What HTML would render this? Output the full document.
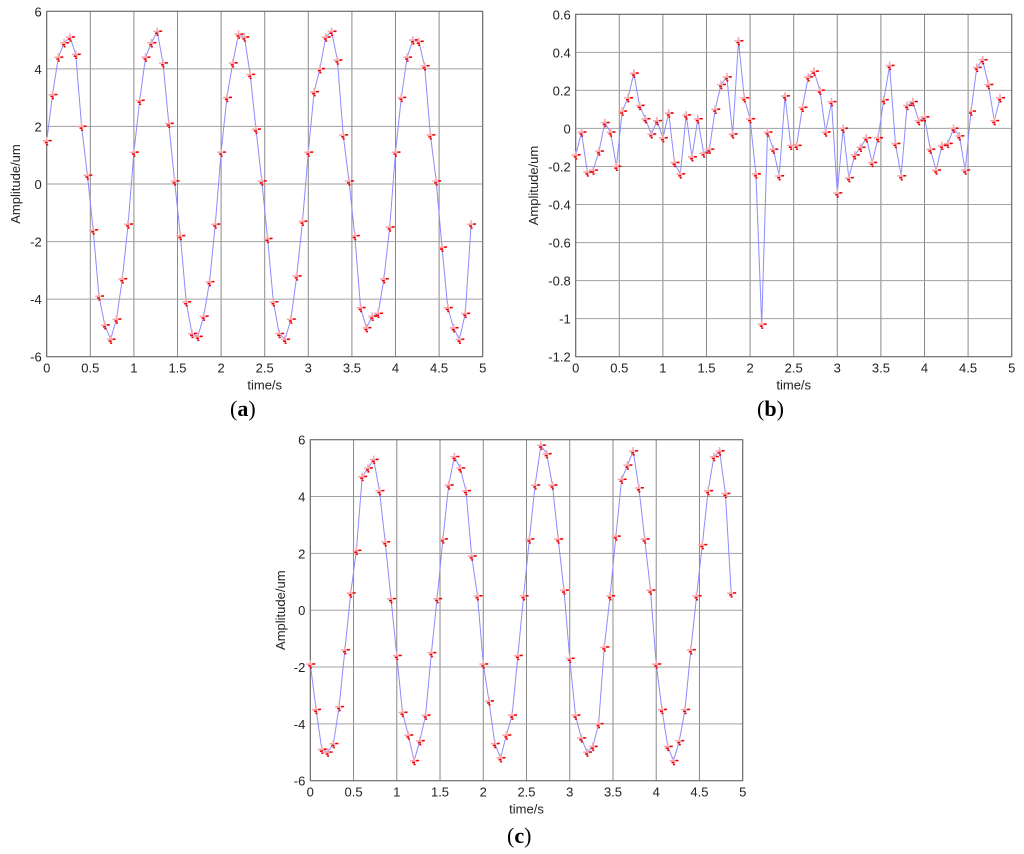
<!DOCTYPE html>
<html><head><meta charset="utf-8"><style>
html,body{margin:0;padding:0;background:#fff;}
body{width:1024px;height:854px;overflow:hidden;position:relative;font-family:"Liberation Sans",sans-serif;}
svg{position:absolute;left:0;top:0;}
.cap{position:absolute;font-family:"Liberation Serif",serif;font-size:22px;color:#000;}
.cap b{font-weight:bold;}
</style></head><body>
<svg id="fig" width="1024" height="854"></svg>
<div class="cap" style="left:230px;top:396px">(<b>a</b>)</div>
<div class="cap" style="left:757px;top:396px">(<b>b</b>)</div>
<div class="cap" style="left:507px;top:823px">(<b>c</b>)</div>
<script>
const sampleStep = 1/15;
const xTicks = [0,0.5,1,1.5,2,2.5,3,3.5,4,4.5,5];
const xTickLabels = ["0","0.5","1","1.5","2","2.5","3","3.5","4","4.5","5"];
const yTicksAC = [-6,-4,-2,0,2,4,6];
const yTickLabelsAC = ["-6","-4","-2","0","2","4","6"];
const yTicksB = [-1.2,-1,-0.8,-0.6,-0.4,-0.2,0,0.2,0.4,0.6];
const yTickLabelsB = ["-1.2","-1","-0.8","-0.6","-0.4","-0.2","0","0.2","0.4","0.6"];
const aValues = [1.5,3.1,4.4,4.9,5.1,4.5,2.0,0.3,-1.6,-3.9,-4.9,-5.4,-4.7,-3.3,-1.4,
 1.1,2.9,4.4,4.9,5.3,4.2,2.1,0.1,-1.8,-4.1,-5.2,-5.3,-4.6,-3.4,-1.4,
 1.1,3.0,4.2,5.2,5.1,3.8,1.9,0.1,-1.9,-4.1,-5.2,-5.4,-4.7,-3.2,-1.3,
 1.1,3.2,4.0,5.1,5.3,4.3,1.7,0.1,-1.8,-4.3,-5.0,-4.6,-4.5,-3.3,-1.5,
 1.1,3.0,4.4,5.0,4.95,4.1,1.7,0.1,-2.2,-4.3,-5.0,-5.4,-4.5,-1.4];
const bValues = [-0.14,-0.02,-0.23,-0.22,-0.12,0.03,-0.02,-0.2,0.09,0.16,0.29,0.12,0.05,-0.03,0.04,
 -0.05,0.08,-0.18,-0.24,0.07,-0.15,0.05,-0.13,-0.11,0.1,0.23,0.27,-0.03,0.46,0.16,
 0.05,-0.24,-1.03,-0.02,-0.11,-0.25,0.17,-0.09,-0.09,0.11,0.27,0.3,0.2,-0.02,0.14,
 -0.34,0.0,-0.26,-0.14,-0.1,-0.05,-0.18,-0.05,0.15,0.33,-0.08,-0.25,0.12,0.14,0.04,
 0.06,-0.11,-0.22,-0.09,-0.08,0.0,-0.04,-0.22,0.09,0.32,0.36,0.23,0.04,0.16];
const cValues = [-1.9,-3.5,-4.9,-5.0,-4.7,-3.4,-1.4,0.6,2.1,4.7,5.0,5.3,4.2,2.4,0.4,
 -1.6,-3.6,-4.4,-5.3,-4.6,-3.7,-1.5,0.4,2.5,4.4,5.4,5.0,4.2,1.9,0.5,
 -1.9,-3.2,-4.7,-5.2,-4.4,-3.7,-1.6,0.5,2.5,4.4,5.8,5.5,4.4,2.5,0.7,
 -1.7,-3.7,-4.5,-5.0,-4.8,-4.0,-1.3,0.5,2.6,4.6,5.1,5.6,4.3,2.5,0.7,
 -1.9,-3.5,-4.8,-5.3,-4.6,-3.5,-1.4,0.5,2.3,4.2,5.4,5.6,4.1,0.6];

const NS = "http://www.w3.org/2000/svg";
const svg = document.getElementById('fig');
function mk(tag, attrs, parent){
  const e = document.createElementNS(NS, tag);
  for (const k in attrs) e.setAttribute(k, attrs[k]);
  (parent||svg).appendChild(e);
  return e;
}
function drawChart(id, box, ymin, ymax, yTicks, yLabels, values){
  const g = mk('g', {});
  
  
  const xs = v => box.x0 + (v - 0) / 5 * (box.x1 - box.x0);
  const ys = v => box.y1 - (v - ymin) / (ymax - ymin) * (box.y1 - box.y0);
  // grid
  xTicks.forEach((t, i) => {
    const x = xs(t);
    const l = mk('line', {x1:x, x2:x, y1:box.y0, y2:box.y1, stroke:'#8a8a8a', 'stroke-width':1}, g);
    
    
    const tx = mk('text', {x:x, y:box.y1 + 16, 'text-anchor':'middle', 'font-size':13, fill:'#222'}, g);
    tx.textContent = xTickLabels[i];
    
    
  });
  yTicks.forEach((t, i) => {
    const y = ys(t);
    const l = mk('line', {x1:box.x0, x2:box.x1, y1:y, y2:y, stroke:'#a0a0a0', 'stroke-width':1}, g);
    
    
    const tx = mk('text', {x:box.x0 - 5, y:y + 5, 'text-anchor':'end', 'font-size':13, fill:'#222'}, g);
    tx.textContent = yLabels[i];
    
    
  });
  const fr = mk('rect', {x:box.x0, y:box.y0, width:box.x1 - box.x0, height:box.y1 - box.y0, fill:'none', stroke:'#666', 'stroke-width':1}, g);
  
  
  const xl = mk('text', {x:(box.x0 + box.x1) / 2, y:box.y1 + 33, 'text-anchor':'middle', 'font-size':13, fill:'#222'}, g);
  xl.textContent = 'time/s';
  
  
  const yc = (box.y0 + box.y1) / 2;
  const yl = mk('text', {x:box.ylx, y:yc, 'text-anchor':'middle', 'font-size':13, fill:'#222', transform:'rotate(-90 ' + box.ylx + ' ' + yc + ')'}, g);
  yl.textContent = 'Amplitude/um';
  
  
  const pts = values.map((v, i) => xs(i * sampleStep).toFixed(1) + ',' + ys(v).toFixed(1)).join(' ');
  const pl = mk('polyline', {points:pts, fill:'none', stroke:'#8c8cff', 'stroke-width':1}, g);
  
  
  values.forEach((v, i) => {
    const x = xs(i * sampleStep), y = ys(v);
    const m = mk('g', {}, g);
    
    
    mk('path', {d:'M' + (x - 4) + ' ' + y + 'h8M' + x + ' ' + (y - 4) + 'v8', stroke:'#f6a8b0', 'stroke-width':1.6}, m);
    mk('rect', {x:x - 2, y:y + 1, width:3, height:1.5, fill:'#e00'}, m);
    mk('rect', {x:x + 2, y:y - 1, width:3, height:1.5, fill:'#e00'}, m);
    mk('rect', {x:x - 0.5, y:y + 3, width:2, height:1.5, fill:'#e00'}, m);
  });
}
drawChart('a', {x0:46.7, x1:482.7, y0:11.3, y1:356.7, ylx:20}, -6, 6, yTicksAC, yTickLabelsAC, aValues);
drawChart('b', {x0:575.7, x1:1011.7, y0:14.3, y1:356.7, ylx:538}, -1.2, 0.6, yTicksB, yTickLabelsB, bValues);
drawChart('c', {x0:310.3, x1:742.7, y0:439.7, y1:780.7, ylx:285}, -6, 6, yTicksAC, yTickLabelsAC, cValues);
</script>
</body></html>
